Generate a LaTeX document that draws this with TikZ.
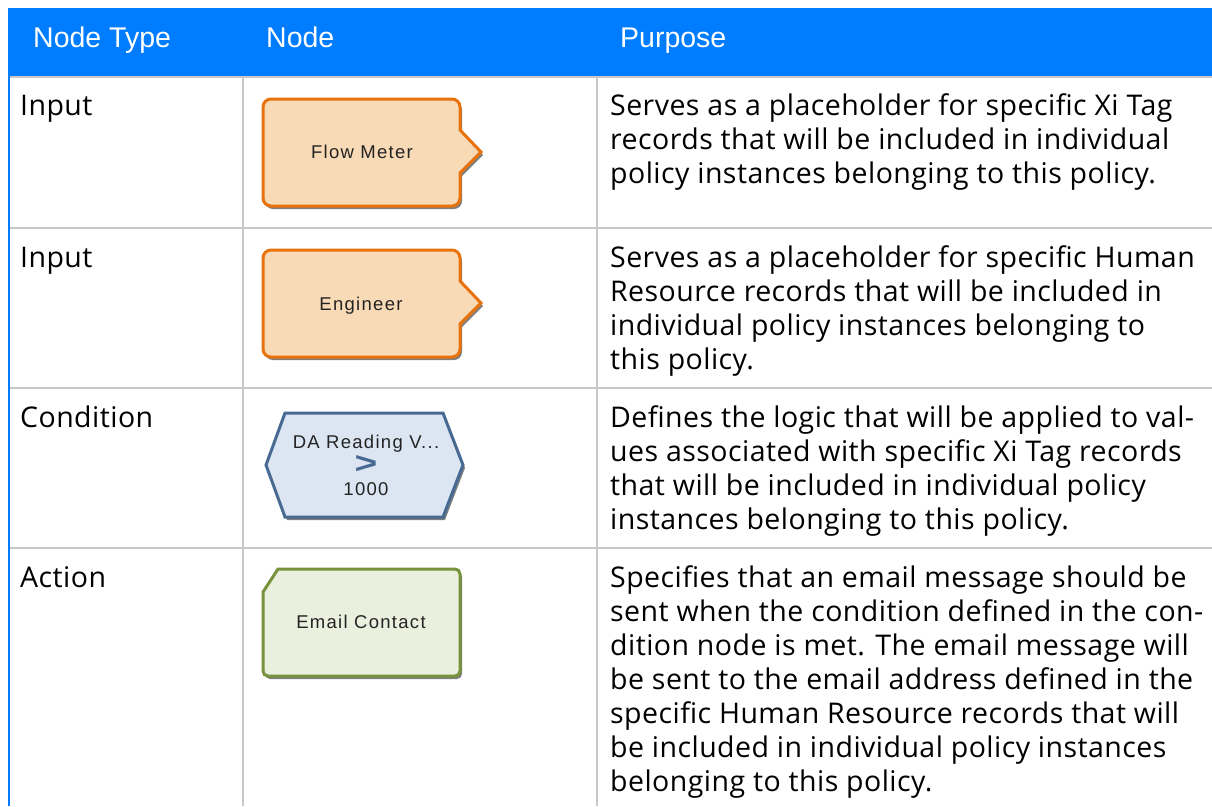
\documentclass[tikz,border=0pt]{standalone}
\usepackage{fontspec}
\setmainfont[LetterSpace=1.6]{Open Sans}
\newfontfamily\headfont{Liberation Sans}
\newfontfamily\shapefont[LetterSpace=7]{Liberation Sans}
\usetikzlibrary{shadows}

\definecolor{headblue}{RGB}{0,125,255}
\definecolor{rulegray}{RGB}{200,200,200}
\definecolor{inorange}{RGB}{232,114,12}
\definecolor{infill}{RGB}{249,218,182}
\definecolor{condline}{RGB}{72,106,146}
\definecolor{condfill}{RGB}{220,230,242}
\definecolor{actline}{RGB}{118,146,60}
\definecolor{actfill}{RGB}{235,240,222}
\definecolor{shapetextgray}{RGB}{35,35,35}

\tikzset{
  head/.style={anchor=base west, inner sep=0pt, text=white, font=\headfont\fontsize{28.5}{34}\selectfont},
  typecell/.style={anchor=base west, inner sep=0pt, font=\fontsize{28.5}{34}\selectfont},
  purposecell/.style={anchor=north west, inner sep=0pt, align=left, font=\fontsize{28.5}{34}\selectfont},
  rule/.style={draw=rulegray, line width=2pt},
  softshadow/.style={drop shadow={shadow xshift=2pt, shadow yshift=-3pt, fill=black, opacity=.5}},
  inbox/.style={draw=inorange, fill=infill, line width=3pt, softshadow},
  condbox/.style={draw=condline, fill=condfill, line width=3pt, softshadow},
  actbox/.style={draw=actline, fill=actfill, line width=3pt, softshadow},
  shapetext/.style={anchor=base, inner sep=0pt, text=shapetextgray, font=\shapefont\fontsize{18.5}{20}\selectfont}
}

\begin{document}
\begin{tikzpicture}[x=1pt,y=-1pt]
  \useasboundingbox (0,0) rectangle (1212,806);

  % header band
  \fill[headblue] (8,8) rectangle (1212,76.5);
  \node[head] (hType) at (33,47) {Node Type};
  \node[head] (hNode) at (266,47) {Node};
  \node[head] (hPurpose) at (620,47) {Purpose};

  % table rules
  \draw[rule] (8,77) -- (1212,77);
  \foreach \y in {228,388,548}
    \draw[rule] (8,\y) -- (1212,\y);
  \draw[rule] (243,77) -- (243,806); % node column
  \draw[rule] (597,77) -- (597,806); % purpose column
  \draw[headblue, line width=2pt] (9,8) -- (9,806); % left edge

  % node type column
  \node[typecell] (tInput) at (20,115) {Input};
  \node[typecell] (tInputB) at (20,267) {Input};
  \node[typecell] (tCond) at (20,427) {Condition};
  \node[typecell] (tAction) at (20,587) {Action};

  %input shapes
  \draw[inbox] (263,152) [rounded corners=8pt] |- (460,99) [sharp corners] -- (460,130) -- (481,152) -- (460,173) [rounded corners=8pt] -- (460,206) -| (263,152);
  \node[shapetext] (flow) at (362,158) {Flow Meter};
  \draw[inbox] (263,303) [rounded corners=8pt] |- (460,250) [sharp corners] -- (460,281) -- (481,303) -- (460,324) [rounded corners=8pt] -- (460,357) -| (263,303);
  \node[shapetext] (eng) at (361,310) {Engineer};

  %condition shape
  \draw[condbox] (266,465) -- (285,413) -- (443,413) -- (463,465) -- (443,517) -- (285,517) -- cycle;
  \node[shapetext] (reading) at (366,448) {DA Reading V...};
  \node[inner sep=0pt, text=condline, font=\headfont\bfseries\fontsize{30}{30}\selectfont, xscale=1.3] (gt) at (366,464) {>};
  \node[shapetext] (limit) at (366,495) {1000};

  %action shape
  \draw[actbox] (278,569) [rounded corners=5pt] -- (460,569) -- (460,676) -- (263,676) [sharp corners] -- (263,592) -- cycle;
  \node[shapetext] (email) at (361,628) {Email Contact};

  % purpose column
  \node[purposecell] (pFlow) at (610,91.2) {\strut Serves as a placeholder for specific Xi Tag\\
    records that will be included in individual\\
    policy instances belonging to this policy.};
  \node[purposecell] (pEng) at (610,243.2) {\strut Serves as a placeholder for specific Human\\
    Resource records that will be included in\\
    individual policy instances belonging to\\
    this policy.};
  \node[purposecell] (pCond) at (610,403.2) {\strut Defines the logic that will be applied to val-\\
    ues associated with specific Xi Tag records\\
    that will be included in individual policy\\
    instances belonging to this policy.};
  \node[purposecell] (pAction) at (610,563.2) {\strut Specifies that an email message should be\\
    sent when the condition defined in the con-\\
    dition node is met. The email message will\\
    be sent to the email address defined in the\\
    specific Human Resource records that will\\
    be included in individual policy instances\\
    belonging to this policy.};

\end{tikzpicture}
\end{document}
